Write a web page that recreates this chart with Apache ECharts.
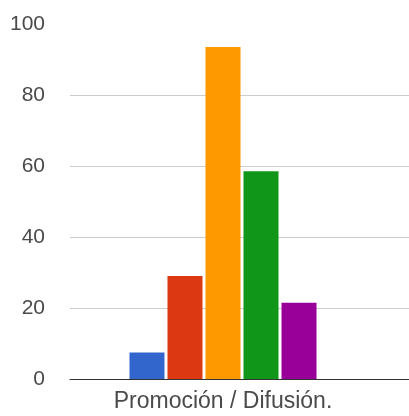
<!DOCTYPE html>
<html>
<head>
<meta charset="utf-8">
<script src="https://cdn.jsdelivr.net/npm/echarts@6/dist/echarts.min.js"></script>
<style>html,body{margin:0;padding:0;background:#fff;}#c{width:409px;height:416px;}</style>
</head>
<body>
<div id="c"></div>
<script>
var categories = ['Promoción / Difusión.'];
var seriesNames = ['A', 'B', 'C', 'D', 'E'];
var values = [7.5, 29, 93.5, 58.5, 21.5];
var colors = ['#3366cc', '#dc3912', '#ff9900', '#109618', '#990099'];
var yTicks = [0, 20, 40, 60, 80, 100];

var chart = echarts.init(document.getElementById('c'), null, {renderer: 'canvas'});
var font = 'Liberation Sans, Arial, sans-serif';
var series = seriesNames.map(function (n, i) {
  return {
    name: n, type: 'bar', xAxisIndex: 1, yAxisIndex: 1,
    data: [values[i]], barWidth: 35, barGap: '8.6%',
    itemStyle: {color: colors[i]}, animation: false
  };
});
chart.setOption({
  backgroundColor: '#fff',
  animation: false,
  grid: [
    {left: 70, right: 0, top: 24, bottom: 37},
    {left: 70, width: 306, top: 24, bottom: 37}
  ],
  xAxis: [
    {gridIndex: 0, type: 'category', data: categories, axisLabel: {show: false}, axisTick: {show: false},
     axisLine: {show: true, lineStyle: {color: '#333', width: 1}}, z: 5},
    {gridIndex: 1, type: 'category', data: categories, axisTick: {show: false}, axisLine: {show: false},
     axisLabel: {show: true, color: '#4a4a4a', fontSize: 23, fontFamily: font, margin: 11}}
  ],
  yAxis: [
    {gridIndex: 0, type: 'value', min: yTicks[0], max: yTicks[yTicks.length - 1], interval: 20,
     axisLine: {show: false}, axisTick: {show: false},
     axisLabel: {color: '#4a4a4a', fontSize: 21, fontFamily: font, margin: 25},
     splitLine: {show: true, lineStyle: {color: ['#ccc', '#ccc', '#ccc', '#ccc', '#ccc', 'rgba(0,0,0,0)'], width: 1}}},
    {gridIndex: 1, type: 'value', min: yTicks[0], max: yTicks[yTicks.length - 1], interval: 20, show: false,
     splitLine: {show: false}}
  ],
  series: series
});
</script>
</body>
</html>
